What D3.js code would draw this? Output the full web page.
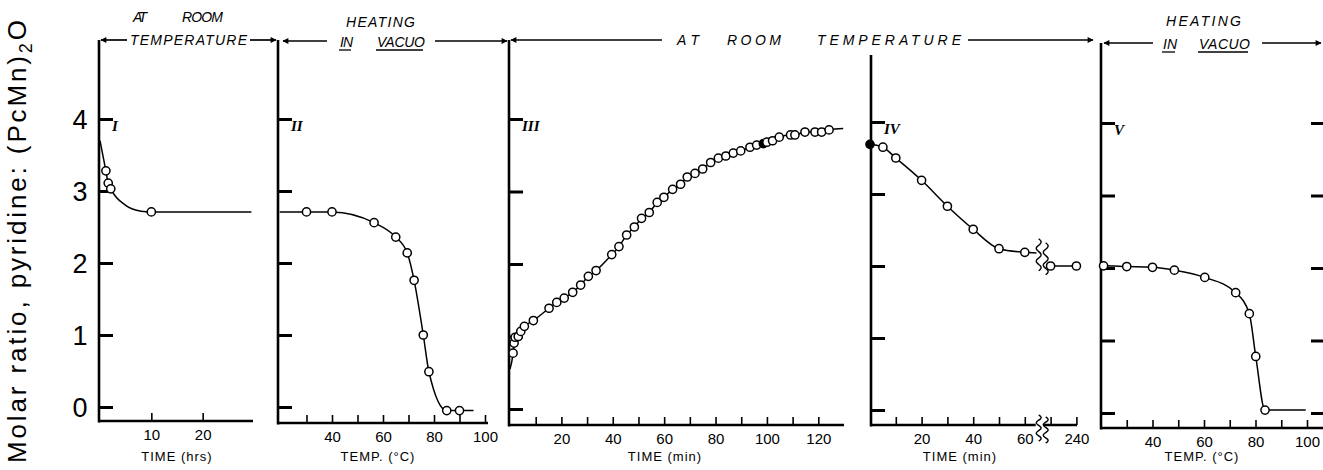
<!DOCTYPE html>
<html>
<head>
<meta charset="utf-8">
<script src="https://cdn.jsdelivr.net/npm/d3@7/dist/d3.min.js"></script>
<style>
    body { margin: 0; background: #fff; }
    svg { display: block; font-family: "Liberation Sans", Arial, sans-serif; }
</style>
</head>
<body>
<svg id="chart" width="1323" height="470"></svg>
<script>
// values
const yTicks = [0, 1, 2, 3, 4];

// I  - standing at room temperature, time in hours
const hrsI = [1.15, 1.6, 2.1, 10];
const ratioI = [3.28, 3.11, 3.03, 2.71];
const lineOnlyI = [[0, 3.7], [5, 2.8], [8, 2.72], [29.5, 2.71]];
const xTicksI = [10, 20];
const xLabelsI = [10, 20];

// II - heating in vacuo, temperature in deg C
const tempII = [30, 40, 56.5, 65, 69.5, 72.2, 75.8, 78, 85, 90];
const ratioII = [2.71, 2.71, 2.56, 2.36, 2.14, 1.76, 1.0, 0.49, -0.05, -0.05];
const lineOnlyII = [[19.5, 2.71], [95.5, -0.05]];
const xTicksII = [30, 40, 50, 60, 70, 80, 90, 100];
const xLabelsII = [40, 60, 80, 100];

// III - back at room temperature, time in minutes
const minIII = [1.2, 1.6, 2.0, 3.2, 4.2, 5.6, 9.1, 15.2, 18.2, 21.1, 24.4, 27.5, 30.5, 33.5,
    39.6, 42.4, 45.4, 48.4, 51.2, 54.2, 57.3, 59.9, 63.3, 66.4, 69.0, 72.0, 75.0, 78.1, 81.1,
    84.0, 86.9, 89.8, 93.4, 96.0, 98.6, 100.0, 102.2, 104.8, 109.2, 110.9, 114.8, 118.7, 121.3, 124.2];
const ratioIII = [0.77, 0.91, 0.99, 1.0, 1.07, 1.14, 1.22, 1.39, 1.47, 1.53, 1.61, 1.71, 1.83, 1.91,
    2.13, 2.24, 2.40, 2.51, 2.63, 2.71, 2.85, 2.92, 3.03, 3.10, 3.20, 3.25, 3.31, 3.40, 3.46,
    3.49, 3.53, 3.56, 3.61, 3.64, 3.66, 3.68, 3.70, 3.75, 3.78, 3.78, 3.82, 3.82, 3.82, 3.85];
const filledIII = [98.6];
const lineOnlyIII = [[0, 0.55], [129.7, 3.87]];
const xTicksIII = [10, 20, 30, 40, 50, 60, 70, 80, 90, 100, 110, 120];
const xLabelsIII = [20, 40, 60, 80, 100, 120];

// IV - room temperature, time in minutes (axis broken between 60 and 240)
const minIV = [0, 5, 10, 20, 30, 40, 50, 60, 230, 240];
const ratioIV = [3.69, 3.65, 3.5, 3.19, 2.83, 2.51, 2.24, 2.19, 2.0, 2.0];
const filledIV = [0];
const lineOnlyIV = [[64.5, 2.18]];
const xTicksIV = [10, 20, 30, 40, 50, 60, 230, 240];
const xLabelsIV = [20, 40, 60, 240];

// V  - heating in vacuo again
const tempV = [21, 30, 40, 48.5, 60.3, 72.3, 77.6, 80.1, 83.7];
const ratioV = [2.03, 2.02, 2.01, 1.97, 1.87, 1.66, 1.37, 0.78, 0.04];
const lineOnlyV = [[20, 2.03], [99.5, 0.04]];
const xTicksV = [30, 40, 50, 60, 70, 80, 90, 100];
const xLabelsV = [40, 60, 80, 100];

//_________________________________________________________________
// layout of the five frames
const panels = [
    { id: 'I', xs: hrsI, ys: ratioI, extra: lineOnlyI, filled: [], ticks: xTicksI, labels: xLabelsI,
      xDom: [0, 30], xRange: [100, 254], axisX: 99, axisEnd: 253, baseY: 421, top: 40,
      yZero: 407, yFour: 119, title: 'TIME (hrs)', titleX: 177 },
    { id: 'II', xs: tempII, ys: ratioII, extra: lineOnlyII, filled: [], ticks: xTicksII, labels: xLabelsII,
      xDom: [20, 100], xRange: [281, 485], axisX: 278, axisEnd: 488, baseY: 423, top: 40,
      yZero: 407, yFour: 119, title: 'TEMP. (°C)', titleX: 378 },
    { id: 'III', xs: minIII, ys: ratioIII, extra: lineOnlyIII, filled: filledIII, ticks: xTicksIII, labels: xLabelsIII,
      xDom: [0, 130], xRange: [510, 844], axisX: 509, axisEnd: 844, baseY: 425, top: 40,
      yZero: 409, yFour: 119, title: 'TIME (min)', titleX: 665 },
    { id: 'IV', xs: minIV, ys: ratioIV, extra: lineOnlyIV, filled: filledIV, ticks: xTicksIV, labels: xLabelsIV,
      xDom: [0, 65, 225, 250], xRange: [870, 1037.7, 1037.7, 1102.2], axisX: 871, axisEnd: 1077, baseY: 425, top: 55,
      yZero: 410, yFour: 122, title: 'TIME (min)', titleX: 960, breakAt: [65, 225] },
    { id: 'V', xs: tempV, ys: ratioV, extra: lineOnlyV, filled: [], ticks: xTicksV, labels: xLabelsV,
      xDom: [20, 100], xRange: [1101, 1307], axisX: 1101, axisEnd: 1323, baseY: 428, top: 43,
      yZero: 413, yFour: 123, title: 'TEMP. (°C)', titleX: 1202, rightTicks: 1323 }
];

const svg = d3.select('#chart');

const line = d3.line()
    .x(d => d.sx)
    .y(d => d.sy)
    .curve(d3.curveMonotoneX);

// wavy break mark
function wavy(x, y0, y1) {
    const n = 24, pts = [];
    for (let i = 0; i <= n; i++) {
        const t = i / n;
        pts.push([x + 2.6 * Math.sin(t * Math.PI * 5), y0 + (y1 - y0) * t]);
    }
    return d3.line().curve(d3.curveBasis)(pts);
}

panels.forEach(p => {
    const g = svg.append('g').attr('class', 'panel-' + p.id);
    const x = d3.scaleLinear().domain(p.xDom).range(p.xRange);
    const y = d3.scaleLinear().domain([0, 4]).range([p.yZero, p.yFour]);

    // vertical spine and bottom line
    g.append('line')
        .attr('x1', p.axisX).attr('x2', p.axisX)
        .attr('y1', p.top).attr('y2', p.baseY + 1.5)
        .attr('stroke', '#000').attr('stroke-width', 2.6);

    if (p.breakAt) {
        const xb0 = x(p.breakAt[0]) - 2, xb1 = x(p.breakAt[1]) + 6;
        g.append('line').attr('x1', p.axisX).attr('x2', xb0).attr('y1', p.baseY).attr('y2', p.baseY)
            .attr('stroke', '#000').attr('stroke-width', 2.6);
        g.append('line').attr('x1', xb1).attr('x2', p.axisEnd).attr('y1', p.baseY).attr('y2', p.baseY)
            .attr('stroke', '#000').attr('stroke-width', 2.6);
    } else {
        g.append('line').attr('x1', p.axisX).attr('x2', p.axisEnd).attr('y1', p.baseY).attr('y2', p.baseY)
            .attr('stroke', '#000').attr('stroke-width', 2.6);
    }

    // y ticks
    const yAxis = g.append('g')
        .attr('transform', `translate(${p.axisX},0)`)
        .call(d3.axisRight(y).tickValues(yTicks).tickSize(14).tickFormat(''));
    yAxis.select('.domain').remove();
    yAxis.selectAll('line').attr('stroke-width', 3);

    if (p.rightTicks) {
        const rAxis = g.append('g')
            .attr('transform', `translate(${p.rightTicks},0)`)
            .call(d3.axisLeft(y).tickValues(yTicks).tickSize(12).tickFormat(''));
        rAxis.select('.domain').remove();
        rAxis.selectAll('line').attr('stroke-width', 3);
    }

    // x ticks and numbers
    const xAxis = g.append('g')
        .attr('transform', `translate(0,${p.baseY})`)
        .call(d3.axisBottom(x).tickValues(p.ticks).tickSizeInner(-8).tickSizeOuter(0).tickPadding(8)
            .tickFormat(d => p.labels.includes(d) ? d : ''));
    xAxis.select('.domain').remove();
    xAxis.selectAll('line').attr('stroke-width', 1.6);
    xAxis.selectAll('text')
        .attr('font-size', 15)
        .attr('font-family', '"Liberation Sans", Arial, sans-serif')
        .attr('fill', '#000');

    g.append('text')
        .attr('x', p.titleX).attr('y', 461)
        .attr('text-anchor', 'middle')
        .attr('font-size', 13)
        .attr('letter-spacing', 1)
        .text(p.title);

    // curve through markers plus traced line ends
    const pts = p.xs.map((v, i) => ({ v, r: p.ys[i] }))
        .concat(p.extra.map(d => ({ v: d[0], r: d[1] })))
        .sort((a, b) => a.v - b.v)
        .map(d => ({ ...d, sx: x(d.v), sy: y(d.r) }));

    const segments = p.breakAt
        ? [pts.filter(d => d.v <= p.breakAt[0]), pts.filter(d => d.v >= p.breakAt[1])]
        : [pts];

    segments.forEach(seg => {
        g.append('path')
            .attr('d', line(seg))
            .attr('fill', 'none')
            .attr('stroke', '#000')
            .attr('stroke-width', 1.5);
    });

    g.append('g')
        .selectAll('circle')
        .data(p.xs.map((v, i) => [v, p.ys[i]]))
        .join('circle')
        .attr('cx', d => x(d[0]))
        .attr('cy', d => y(d[1]))
        .attr('r', 4.1)
        .attr('fill', d => p.filled.includes(d[0]) ? '#000' : '#fff')
        .attr('stroke', '#000')
        .attr('stroke-width', 1.5);

    if (p.breakAt) {
        const bx = x(p.breakAt[0]);
        const yb = y(2.1);
        [bx + 1, bx + 8].forEach((wx, k) => {
            g.append('path').attr('d', wavy(wx, yb - 20 + k * 4, yb + 12 + k * 4))
                .attr('fill', 'none').attr('stroke', '#000').attr('stroke-width', 1.4);
            g.append('path').attr('d', wavy(wx, p.baseY - 10 + k * 2, p.baseY + 16 + k * 2))
                .attr('fill', 'none').attr('stroke', '#000').attr('stroke-width', 1.4);
        });
    }

    // roman numeral
    g.append('text')
        .attr('x', p.axisX + 13).attr('y', y(3.83))
        .attr('font-family', '"Liberation Serif", "DejaVu Serif", serif')
        .attr('font-style', 'italic')
        .attr('font-weight', 'bold')
        .attr('font-size', 15)
        .text(p.id);
});

// y tick numbers, only on the first frame
svg.append('g')
    .selectAll('text')
    .data(yTicks)
    .join('text')
    .attr('x', 80)
    .attr('y', d => d3.scaleLinear().domain([0, 4]).range([407, 119])(d))
    .attr('dy', '0.36em')
    .attr('text-anchor', 'middle')
    .attr('font-size', 27)
    .text(d => d);

// axis title
const yTitle = svg.append('text')
    .attr('transform', 'translate(26,241.5) rotate(-90)')
    .attr('text-anchor', 'middle')
    .attr('font-size', 26)
    .attr('textLength', 443)
    .attr('lengthAdjust', 'spacing');
yTitle.append('tspan').text('Molar ratio, pyridine: (PcMn)');
yTitle.append('tspan').attr('font-size', 18).attr('dy', 6).text('2');
yTitle.append('tspan').attr('dy', -6).text('O');

// condition labels with arrows
svg.append('defs').append('marker')
    .attr('id', 'head')
    .attr('viewBox', '0 0 10 10')
    .attr('refX', 9).attr('refY', 5)
    .attr('markerWidth', 9).attr('markerHeight', 6)
    .attr('markerUnits', 'userSpaceOnUse')
    .attr('orient', 'auto')
    .append('path').attr('d', 'M0,0L10,5L0,10Z').attr('fill', '#000');

const arrows = [
    [127, 101, 40], [250, 276, 40],
    [327, 283, 41], [435, 507, 41],
    [662, 511, 40], [968, 1093, 40],
    [1153, 1104, 43], [1262, 1321, 43]
];
svg.append('g')
    .selectAll('line')
    .data(arrows)
    .join('line')
    .attr('x1', d => d[0]).attr('x2', d => d[1])
    .attr('y1', d => d[2]).attr('y2', d => d[2])
    .attr('stroke', '#000').attr('stroke-width', 1.7)
    .attr('marker-end', 'url(#head)');

const words = [
    ['AT', 133, 147, 22], ['ROOM', 182, 223, 22], ['TEMPERATURE', 130, 247, 45],
    ['HEATING', 346, 415, 27], ['IN', 340, 353, 47, true], ['VACUO', 377, 425, 47, true],
    ['AT', 677, 699, 45], ['ROOM', 727, 781, 45], ['TEMPERATURE', 817, 961, 45],
    ['HEATING', 1166, 1241, 26], ['IN', 1163, 1177, 49, true], ['VACUO', 1199, 1250, 49, true]
];
const wg = svg.append('g').attr('font-style', 'italic').attr('font-size', 14);
words.forEach(([t, x0, x1, yb, under]) => {
    wg.append('text')
        .attr('x', x0).attr('y', yb)
        .attr('textLength', x1 - x0)
        .attr('lengthAdjust', 'spacing')
        .text(t);
    if (under) {
        wg.append('line')
            .attr('x1', x0 - 1).attr('x2', x1 - 2)
            .attr('y1', yb + 3).attr('y2', yb + 3)
            .attr('stroke', '#000').attr('stroke-width', 1.3);
    }
});
</script>
</body>
</html>
